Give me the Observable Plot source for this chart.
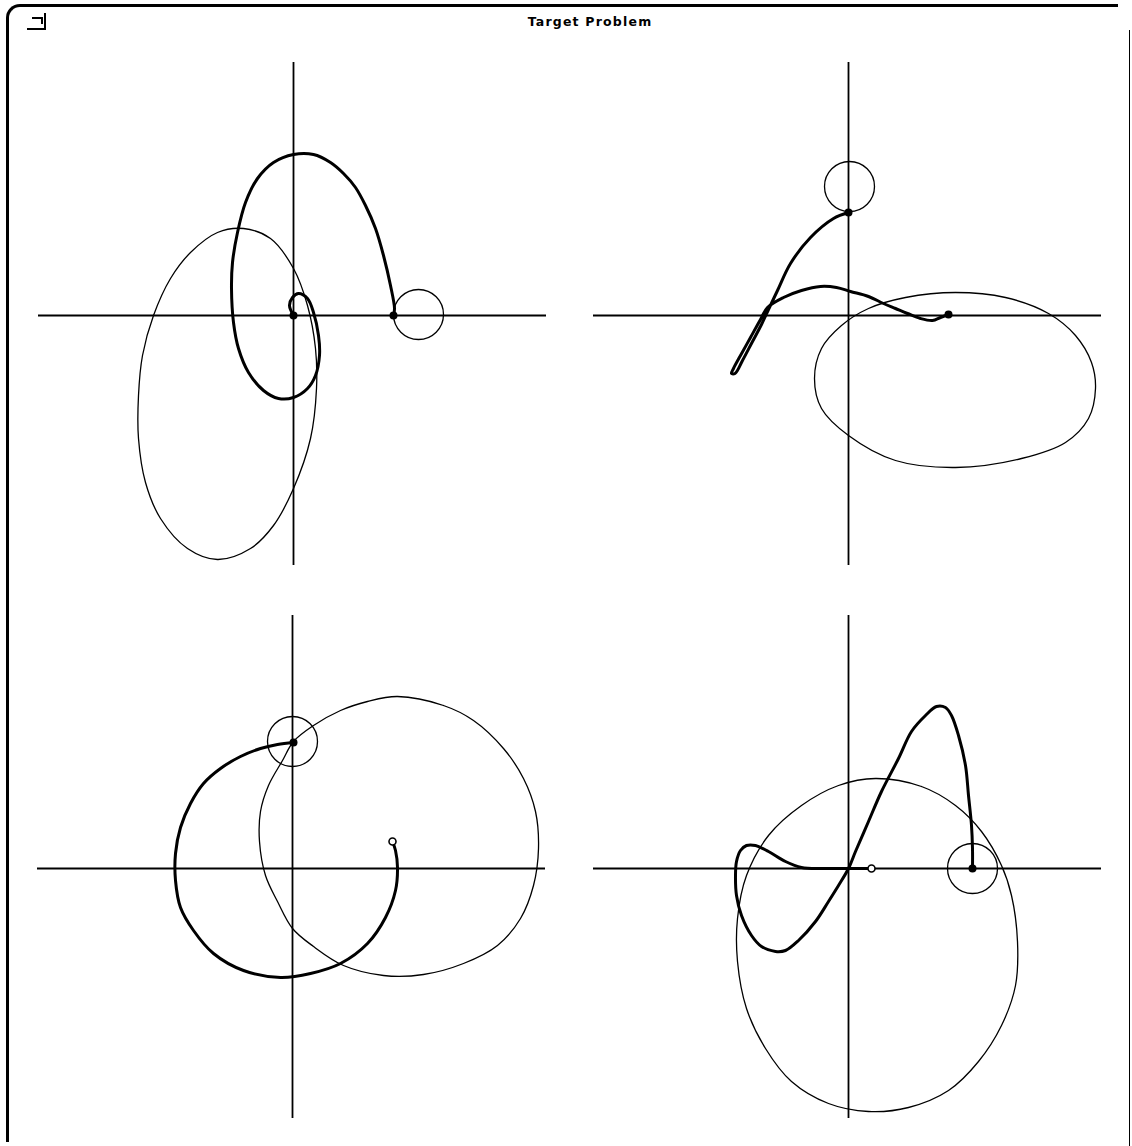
<!DOCTYPE html>
<html>
<head>
<meta charset="utf-8">
<script src="https://cdn.jsdelivr.net/npm/d3@7"></script>
<script src="https://cdn.jsdelivr.net/npm/@observablehq/plot@0.6"></script>
<style>
  html, body { margin: 0; padding: 0; background: #fff; }
  #win { position: relative; width: 1132px; height: 1146px; overflow: hidden; background: #fff; }
  #frame { position: absolute; left: 6px; top: 4px; width: 1112px; height: 1138px;
           border-left: 3px solid #000; border-top: 3px solid #000;
           border-top-left-radius: 14px; box-sizing: border-box; }
  #rightEdge { position: absolute; left: 1129px; top: 30px; width: 1px; height: 1116px; background: #000; }
  #closeBox { position: absolute; left: 27px; top: 13px; width: 17px; height: 15px;
              border-right: 2px solid #000; border-bottom: 2px solid #000; }
  #closeGlyph { position: absolute; left: 32px; top: 17px; width: 9px; height: 5px;
                border-top: 2px solid #000; border-right: 2px solid #000; }
  #title { position: absolute; left: 0; top: 14px; width: 1180px; text-align: center;
           font: bold 12.5px "DejaVu Sans", sans-serif; letter-spacing: 1.2px; color: #000; }
  .panel { position: absolute; }
</style>
</head>
<body>
<div id="win">
  <div id="frame"></div>
  <div id="rightEdge"></div>
  <div id="closeBox"></div>
  <div id="closeGlyph"></div>
  <div id="title">Target Problem</div>
</div>
<script>
// ---- Panel 1 (top left) ----
const tlReach = [[-0.76,0.83],[-0.50,0.87],[-0.23,0.77],[0.00,0.47],[0.14,0.10],[0.22,-0.33],[0.23,-0.73],
  [0.17,-1.23],[0.00,-1.73],[-0.20,-2.10],[-0.43,-2.33],[-0.76,-2.44],[-1.06,-2.33],[-1.33,-2.03],
  [-1.48,-1.67],[-1.55,-1.23],[-1.55,-0.80],[-1.51,-0.40],[-1.40,0.00],[-1.23,0.37],[-1.03,0.63]];
const tlPath = [[0,0],[-0.04,0.10],[-0.01,0.18],[0.05,0.22],[0.14,0.17],[0.20,0.03],[0.25,-0.20],[0.26,-0.40],
  [0.22,-0.60],[0.14,-0.73],[0.00,-0.82],[-0.15,-0.83],[-0.30,-0.75],[-0.45,-0.57],[-0.55,-0.33],
  [-0.60,-0.07],[-0.62,0.27],[-0.61,0.53],[-0.56,0.83],[-0.48,1.13],[-0.36,1.37],[-0.20,1.53],
  [0.00,1.61],[0.20,1.61],[0.37,1.53],[0.50,1.42],[0.62,1.28],[0.72,1.10],[0.82,0.87],[0.90,0.60],
  [0.97,0.30],[1.01,0.07],[1.00,0.00]];
const tlTarget = [[1.25, 0.01]];
const tlFilled = [[0, 0], [1.00, 0.00]];
const tlOpen = [];

// ---- Panel 2 (top right) ----
const trReach = [[1.07,0.23],[1.57,0.18],[2.00,0.02],[2.27,-0.20],[2.43,-0.47],[2.47,-0.73],[2.40,-1.03],
  [2.17,-1.27],[1.73,-1.43],[1.07,-1.52],[0.47,-1.45],[0.00,-1.20],[-0.27,-0.93],[-0.34,-0.63],
  [-0.27,-0.33],[-0.07,-0.10],[0.20,0.07],[0.57,0.18]];
const trPath = [[1.00,0.01],[0.92,-0.02],[0.84,-0.05],[0.72,-0.03],[0.59,0.02],[0.47,0.07],[0.35,0.12],
  [0.20,0.19],[0.02,0.24],[-0.12,0.28],[-0.28,0.29],[-0.47,0.25],[-0.65,0.18],[-0.81,0.08],[-0.88,-0.04],
  [-0.98,-0.22],[-1.08,-0.40],[-1.15,-0.53],[-1.17,-0.58],[-1.135,-0.58],[-1.06,-0.45],[-0.965,-0.27],
  [-0.87,-0.09],[-0.80,0.06],[-0.71,0.25],[-0.58,0.52],[-0.38,0.78],[-0.15,0.97],[0.00,1.03]];
const trTarget = [[0.01, 1.29]];
const trFilled = [[1.00, 0.01], [0.00, 1.03]];
const trOpen = [];

// ---- Panel 3 (bottom left) ----
const blReach = [[1.05,1.72],[1.51,1.63],[1.81,1.48],[2.11,1.20],[2.31,0.90],[2.43,0.57],[2.46,0.20],
  [2.41,-0.17],[2.28,-0.50],[2.05,-0.77],[1.71,-0.95],[1.31,-1.06],[0.91,-1.07],[0.51,-0.97],
  [0.21,-0.78],[0.00,-0.60],[-0.15,-0.33],[-0.27,-0.07],[-0.33,0.27],[-0.32,0.57],[-0.24,0.83],
  [-0.10,1.08],[0.01,1.27],[0.21,1.43],[0.48,1.58],[0.75,1.67]];
const blPath = [[1.00,0.27],[1.03,0.18],[1.05,0.01],[1.03,-0.22],[0.93,-0.49],[0.75,-0.75],[0.48,-0.95],
  [0.18,-1.05],[-0.12,-1.09],[-0.49,-1.02],[-0.79,-0.85],[-0.99,-0.62],[-1.12,-0.39],[-1.17,-0.12],
  [-1.17,0.15],[-1.12,0.41],[-1.02,0.65],[-0.89,0.85],[-0.72,1.00],[-0.52,1.12],[-0.32,1.20],
  [-0.15,1.24],[0.01,1.26]];
const blTarget = [[0.00, 1.27]];
const blFilled = [[0.01, 1.26]];
const blOpen = [[1.00, 0.27]];

// ---- Panel 4 (bottom right) ----
const brReach = [[0.27,0.90],[0.73,0.82],[1.07,0.63],[1.33,0.37],[1.53,0.03],[1.63,-0.27],[1.69,-0.73],
  [1.67,-1.17],[1.53,-1.57],[1.30,-1.93],[1.00,-2.22],[0.60,-2.39],[0.20,-2.43],[-0.20,-2.35],
  [-0.57,-2.13],[-0.83,-1.80],[-1.02,-1.40],[-1.11,-0.93],[-1.11,-0.50],[-1.02,-0.07],[-0.80,0.33],
  [-0.47,0.63],[-0.10,0.83]];
const brPath = [[0.23,0.00],[0.00,0.00],[-0.25,0.00],[-0.47,0.01],[-0.63,0.07],[-0.80,0.17],[-0.93,0.23],
  [-1.02,0.23],[-1.08,0.18],[-1.12,0.07],[-1.13,-0.07],[-1.12,-0.27],[-1.07,-0.47],[-0.97,-0.67],
  [-0.87,-0.78],[-0.73,-0.83],[-0.63,-0.82],[-0.50,-0.72],[-0.33,-0.53],[-0.20,-0.33],[-0.10,-0.17],
  [0.00,0.00],[0.07,0.17],[0.20,0.47],[0.33,0.77],[0.50,1.10],[0.63,1.37],[0.77,1.53],[0.88,1.62],
  [0.97,1.61],[1.03,1.53],[1.10,1.33],[1.17,1.03],[1.20,0.73],[1.23,0.43],[1.24,0.20],[1.24,0.00]];
const brTarget = [[1.24, 0.00]];
const brFilled = [[1.24, 0.00]];
const brOpen = [[0.23, 0.00]];

// Shared plotting frame: 100 px per unit, axes crossing at the origin.
const xDomain = [-2.55, 2.53];
const yDomain = [-2.50, 2.53];
const pxPerUnit = 100;
const targetRadius = 0.25;

const panels = [
  {origin: [293, 315], reach: tlReach, path: tlPath, target: tlTarget, filled: tlFilled, open: tlOpen},
  {origin: [848, 315], reach: trReach, path: trPath, target: trTarget, filled: trFilled, open: trOpen},
  {origin: [292, 868], reach: blReach, path: blPath, target: blTarget, filled: blFilled, open: blOpen},
  {origin: [848, 868], reach: brReach, path: brPath, target: brTarget, filled: brFilled, open: brOpen}
];

const px = d => d[0];
const py = d => d[1];
const win = document.getElementById("win");

for (const p of panels) {
  const width = Math.round((xDomain[1] - xDomain[0]) * pxPerUnit);
  const height = Math.round((yDomain[1] - yDomain[0]) * pxPerUnit);
  const chart = Plot.plot({
    width, height,
    margin: 0,
    style: {background: "transparent", overflow: "visible"},
    x: {domain: xDomain, axis: null},
    y: {domain: yDomain, axis: null},
    marks: [
      Plot.ruleY([0], {stroke: "#000", strokeWidth: 1.8}),
      Plot.ruleX([0], {stroke: "#000", strokeWidth: 1.8}),
      Plot.line(p.reach, {x: px, y: py, curve: "catmull-rom-closed", stroke: "#000", strokeWidth: 1.3}),
      Plot.dot(p.target, {x: px, y: py, r: targetRadius * pxPerUnit, stroke: "#000", strokeWidth: 1.3, fill: "none"}),
      Plot.line(p.path, {x: px, y: py, curve: "catmull-rom", stroke: "#000", strokeWidth: 3, strokeLinejoin: "round"}),
      Plot.dot(p.filled, {x: px, y: py, r: 4, fill: "#000", stroke: "none"}),
      Plot.dot(p.open, {x: px, y: py, r: 3.5, fill: "#fff", stroke: "#000", strokeWidth: 1.6})
    ]
  });
  chart.classList.add("panel");
  chart.style.left = (p.origin[0] + xDomain[0] * pxPerUnit) + "px";
  chart.style.top = (p.origin[1] - yDomain[1] * pxPerUnit) + "px";
  win.appendChild(chart);
}
</script>
</body>
</html>
